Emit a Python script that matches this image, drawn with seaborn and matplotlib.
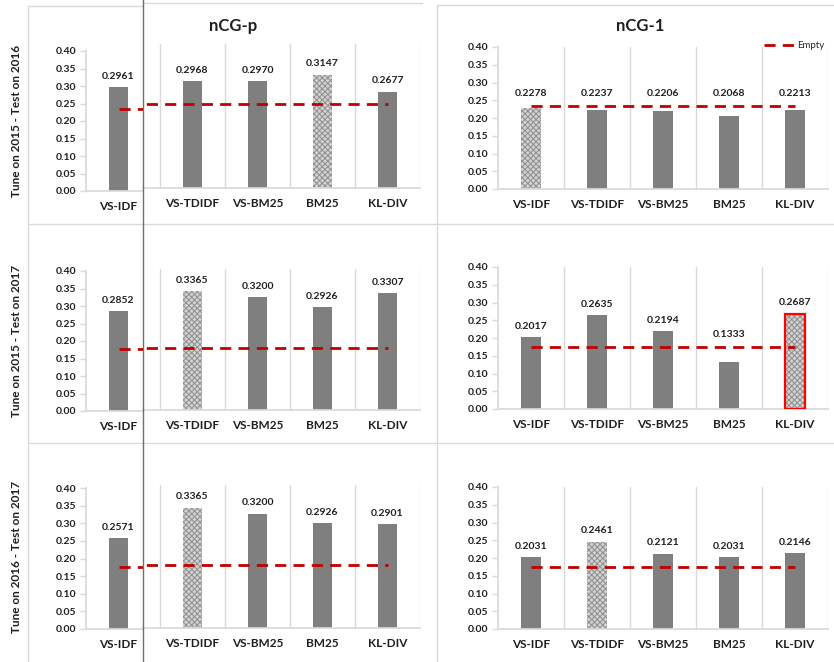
import numpy as np
import pandas as pd
import matplotlib
matplotlib.use("Agg")
import matplotlib.pyplot as plt
from matplotlib.lines import Line2D
from matplotlib.ticker import FixedLocator
import seaborn as sns

# ---------------------------------------------------------------- data
METHODS = ["VS-IDF", "VS-TDIDF", "VS-BM25", "BM25", "KL-DIV"]
ROW_LABELS = ["Tune on 2015 - Test on 2016",
              "Tune on 2015 - Test on 2017",
              "Tune on 2016 - Test on 2017"]
METRICS = ["nCG-p", "nCG-1"]

ncg_p_2015_2016 = [0.2961, 0.2968, 0.2970, 0.3147, 0.2677]
ncg_p_2015_2017 = [0.2852, 0.3365, 0.3200, 0.2926, 0.3307]
ncg_p_2016_2017 = [0.2571, 0.3365, 0.3200, 0.2926, 0.2901]

ncg_1_2015_2016 = [0.2278, 0.2237, 0.2206, 0.2068, 0.2213]
ncg_1_2015_2017 = [0.2017, 0.2635, 0.2194, 0.1333, 0.2687]
ncg_1_2016_2017 = [0.2031, 0.2461, 0.2121, 0.2031, 0.2146]

# score of the empty (no-expansion) baseline per test year
empty_test_2016 = 0.234
empty_test_2017 = 0.176

best_ncg_p = ["BM25", "VS-TDIDF", "VS-TDIDF"]
best_ncg_1 = ["VS-IDF", "KL-DIV", "VS-TDIDF"]
framed_ncg_1 = [None, "KL-DIV", None]

Y_TICKS = [0.00, 0.05, 0.10, 0.15, 0.20, 0.25, 0.30, 0.35, 0.40]

# ---------------------------------------------------------------- style
sns.set_theme(style="white")
plt.rcParams["font.family"] = ["Lato", "DejaVu Sans"]
plt.rcParams["hatch.linewidth"] = 0.7

BAR_GREY = "#7f7f7f"
DOT_FACE = "#d2d2d2"
DOT_HATCH = "#8e8e8e"
RED = "#c00000"
FRAME = "#d9d9d9"
TEXT = "#1f1f1f"
BAR_W = 0.29

W, H = 834, 662
fig = plt.figure(figsize=(W / 100, H / 100), dpi=100)
fig.patch.set_facecolor("white")


def px_axes(x0, y_top, x1, y_bottom):
    return fig.add_axes([x0 / W, 1 - y_bottom / H, (x1 - x0) / W, (y_bottom - y_top) / H])


def draw_panel(ax, values, shown, best, framed, empty, xlim, show_y=True, legend=False):
    df = pd.DataFrame({"method": METHODS, "score": values})
    df = df[df["method"].isin(shown)]
    sns.barplot(data=df, x="method", y="score", order=METHODS, color=BAR_GREY,
                saturation=1, width=BAR_W, errorbar=None, linewidth=0, ax=ax)
    bars = ax.containers[0]
    for patch in bars:
        idx = int(round(patch.get_x() + patch.get_width() / 2))
        if METHODS[idx] == best:
            patch.set_facecolor(DOT_FACE)
            patch.set_edgecolor(DOT_HATCH)
            patch.set_hatch("xxxxxx")
            patch.set_linewidth(0)
        # value label above the bar, lifted over the baseline line when it would cross it
        value = patch.get_height()
        anchor = max(value, empty + 0.004) if value < empty + 0.012 else value
        ax.annotate(f"{value:.4f}", (patch.get_x() + patch.get_width() / 2, anchor),
                    xytext=(0, 4.5), textcoords="offset points", ha="center", va="bottom",
                    fontsize=7.5, fontweight="bold", color=TEXT, zorder=6)

    if framed is not None:
        k = METHODS.index(framed)
        ax.bar([k], [values[k]], width=BAR_W, fill=False, edgecolor="#ff0000",
               linewidth=1.6, zorder=3)

    sns.lineplot(x=METHODS, y=[empty] * len(METHODS), color=RED, linewidth=2.0,
                 label="Empty", legend=False, ax=ax, zorder=4)
    ax.lines[-1].set_dashes((4, 2.6))

    ax.set_xlim(*xlim)
    ax.set_ylim(0, 0.40)
    ax.set_xlabel("")
    ax.set_ylabel("")
    ax.yaxis.set_major_locator(FixedLocator(Y_TICKS))
    ax.set_yticklabels([f"{t:.2f}" for t in Y_TICKS])
    ax.xaxis.set_minor_locator(FixedLocator([i + 0.5 for i in range(len(METHODS))]))
    ax.grid(False)
    ax.grid(True, which="minor", axis="x", color=FRAME, linewidth=1)
    ax.set_axisbelow(True)
    for side in ("top", "right"):
        ax.spines[side].set_visible(False)
    ax.spines["bottom"].set_color(FRAME)
    ax.spines["left"].set_color(FRAME)
    ax.spines["left"].set_visible(show_y)
    ax.tick_params(axis="x", which="both", length=0, pad=7, labelsize=8.5,
                   labelcolor=TEXT)
    for lab in ax.get_xticklabels():
        lab.set_fontweight("bold")
    if show_y:
        ax.tick_params(axis="y", length=4, width=1, color=FRAME, direction="out",
                       labelsize=7.5, labelcolor=TEXT, pad=3, left=True)
        for lab in ax.get_yticklabels():
            lab.set_fontweight("bold")
    else:
        ax.tick_params(axis="y", left=False, labelleft=False)
    ax.set_facecolor("none")
    if legend:
        ax.legend(loc="upper right", bbox_to_anchor=(1.0, 1.07), frameon=False,
                  fontsize=7, handlelength=3.2, handletextpad=0.2, borderaxespad=0)


ncg_p_rows = [ncg_p_2015_2016, ncg_p_2015_2017, ncg_p_2016_2017]
ncg_1_rows = [ncg_1_2015_2016, ncg_1_2015_2017, ncg_1_2016_2017]
empty_rows = [empty_test_2016, empty_test_2017, empty_test_2017]

# pixel geometry of each row: (narrow, inner, right) as (y of 0.40, y of 0.00)
rows_geom = [((51, 191), (44, 188), (47, 189)),
             ((271, 411), (269, 410), (267, 409)),
             ((488, 629), (485, 628), (487, 629))]
row_centres = [121, 341, 557]

SLOT = 65.0
narrow_xlim = (-0.5, -0.5 + (143 - 86) / SLOT)
inner_xlim = (-0.5 + (143 - 95) / SLOT, 4.5)

for r in range(3):
    g_n, g_i, g_r = rows_geom[r]
    # left column: chart of VS-IDF
    ax_n = px_axes(86, g_n[0], 143, g_n[1])
    draw_panel(ax_n, ncg_p_rows[r], ["VS-IDF"], best_ncg_p[r], None,
               empty_rows[r], narrow_xlim)
    # left column: remaining nCG-p runs
    ax_i = px_axes(143, g_i[0], 420, g_i[1])
    draw_panel(ax_i, ncg_p_rows[r], METHODS[1:], best_ncg_p[r], None,
               empty_rows[r], inner_xlim, show_y=False)
    # right column: nCG-1
    ax_r = px_axes(498, g_r[0], 828, g_r[1])
    draw_panel(ax_r, ncg_1_rows[r], METHODS, best_ncg_1[r], framed_ncg_1[r],
               empty_rows[r], (-0.5, 4.5), legend=(r == 0))

    fig.text(17 / W, 1 - row_centres[r] / H, ROW_LABELS[r], rotation=90,
             ha="center", va="center", fontsize=8.5, fontweight="bold", color=TEXT)

fig.text(233 / W, 1 - 26 / H, METRICS[0], ha="center", va="center",
         fontsize=12, fontweight="bold", color=TEXT)
fig.text(640 / W, 1 - 26 / H, METRICS[1], ha="center", va="center",
         fontsize=12, fontweight="bold", color=TEXT)


# ---------------------------------------------------------------- panel frames
def seg(x0, y0, x1, y1, color=FRAME, lw=1.0, z=1):
    fig.add_artist(Line2D([x0 / W, x1 / W], [1 - y0 / H, 1 - y1 / H],
                          color=color, linewidth=lw, zorder=z))


seg(28, 6, 28, H)
seg(437, 5, 437, H)
seg(28, 6, 143, 6)
seg(143, 3, 422, 3)
seg(437, 5, W, 5)
seg(28, 224, W, 224)
seg(28, 443, W, 443)
seg(143, 0, 143, H, color="#6f6f6f", lw=1.0, z=10)

fig.savefig("out.png", dpi=100, facecolor="white")
